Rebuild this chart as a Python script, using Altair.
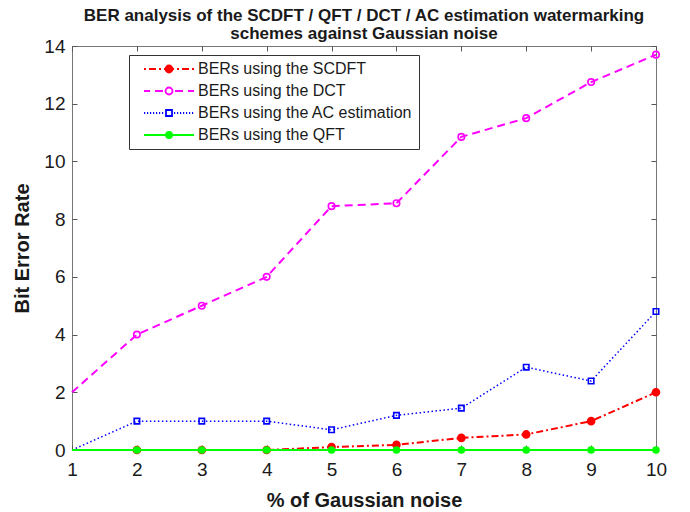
import altair as alt
import pandas as pd

# ---------------- data ----------------
noise = [1, 2, 3, 4, 5, 6, 7, 8, 9, 10]
ber_scdft = [0, 0, 0, 0, 0.1, 0.18, 0.42, 0.54, 1.0, 2.0]
ber_dct = [2, 4, 5, 6, 8.45, 8.55, 10.85, 11.5, 12.75, 13.7]
ber_ac = [0, 1, 1, 1, 0.7, 1.2, 1.45, 2.87, 2.39, 4.8]
ber_qft = [0, 0, 0, 0, 0, 0, 0, 0, 0, 0]
series_names = [
    "BERs using the SCDFT",
    "BERs using the DCT",
    "BERs using the AC estimation",
    "BERs using the QFT",
]
x_ticks = [1, 2, 3, 4, 5, 6, 7, 8, 9, 10]
y_ticks = [0, 2, 4, 6, 8, 10, 12, 14]
title_lines = [
    "BER analysis of the SCDFT / QFT / DCT / AC estimation watermarking",
    "schemes against Gaussian noise",
]
x_title = "% of Gaussian noise"
y_title = "Bit Error Rate"

values = [ber_scdft, ber_dct, ber_ac, ber_qft]
rows = []
for name, vals in zip(series_names, values):
    for xv, yv in zip(noise, vals):
        rows.append({"series": name, "x": xv, "y": yv})
df = pd.DataFrame(rows)

# ---------------- styles ----------------
FONT = "Liberation Sans"
colors = ["#ff0000", "#ff00ff", "#0000ff", "#00ff00"]
dashes = [[7, 3, 2, 3], [8, 5], [1.5, 2.5], [1, 0]]
line_widths = [2, 2, 1.5, 2]
marker_shapes = ["circle", "circle", "square", "circle"]
marker_filled = [True, False, False, True]
marker_sizes = [49, 42, 30, 36]

circ = "M{r},0A{r},{r},0,1,1,-{r},0A{r},{r},0,1,1,{r},0Z"
dots = "".join(f"M{a},0H{a+1.2}" for a in range(-25, -4, 3)) + "".join(
    f"M{a},0H{a+1.2}" for a in range(5, 25, 3)
)
legend_paths = [
    "M-25,0H-23M-20,0H-13M-10,0H-8M-5,0H5M8,0H10M13,0H20M23,0H25" + circ.format(r=3.5),
    "M-25,0H-19M-14,0H-6M6,0H14M19,0H25" + circ.format(r=3.5),
    dots + "M-3,-3H3V3H-3Z",
    "M-25,0H25" + circ.format(r=3),
]
legend_fills = ["#ff0000", "#ffffff", "#ffffff", "#00ff00"]

AX = "#555555"
TXT = "#1a1a1a"

xscale = alt.Scale(domain=[1, 10], nice=False, zero=False)
yscale = alt.Scale(domain=[0, 14], nice=False, zero=False)

x_bottom = alt.X(
    "x:Q", scale=xscale,
    axis=alt.Axis(
        orient="bottom", values=x_ticks, format="d", offset=-5, domain=False,
        tickSize=5, tickColor=AX, tickWidth=1, grid=False,
        labelFont=FONT, labelFontSize=19, labelColor=TXT, labelPadding=10,
        labelFlush=False, labelOverlap=False,
        title=x_title, titleFont=FONT, titleFontSize=20, titleFontWeight="bold",
        titleColor=TXT, titleY=61, titleBaseline="alphabetic",
    ),
)
y_left = alt.Y(
    "y:Q", scale=yscale,
    axis=alt.Axis(
        orient="left", values=y_ticks, format="d", offset=-5, domain=False,
        tickSize=5, tickColor=AX, tickWidth=1, grid=False,
        labelFont=FONT, labelFontSize=19, labelColor=TXT, labelPadding=7,
        labelFlush=False, labelOverlap=False,
        title=y_title, titleFont=FONT, titleFontSize=20, titleFontWeight="bold",
        titleColor=TXT, titleX=-49, titleY=202, titleAngle=270,
        titleAlign="center", titleBaseline="alphabetic",
    ),
)
x_top = alt.X(
    "x:Q", scale=xscale,
    axis=alt.Axis(orient="top", values=x_ticks, offset=-5, domain=False,
                  tickSize=5, tickColor=AX, labels=False, title=None, grid=False),
)
y_right = alt.Y(
    "y:Q", scale=yscale,
    axis=alt.Axis(orient="right", values=y_ticks, offset=-5, domain=False,
                  tickSize=5, tickColor=AX, labels=False, title=None, grid=False),
)
x_plain = alt.X("x:Q", scale=xscale, axis=None)
y_plain = alt.Y("y:Q", scale=yscale, axis=None)

base = alt.Chart(df)
layers = []
for i, name in enumerate(series_names):
    xe = x_bottom if i == 0 else x_plain
    ye = y_left if i == 0 else y_plain
    line = base.transform_filter(alt.datum.series == name).mark_line(
        color=colors[i], strokeDash=dashes[i], strokeWidth=line_widths[i]
    ).encode(x=xe, y=ye)
    pts = base.transform_filter(alt.datum.series == name).transform_filter(
        alt.datum.x > 1
    ).mark_point(
        shape=marker_shapes[i], filled=marker_filled[i],
        fill=colors[i] if marker_filled[i] else "transparent",
        stroke=colors[i], size=marker_sizes[i], strokeWidth=1.6, opacity=1,
    ).encode(x=x_plain, y=y_plain)
    layers += [line, pts]

leg = alt.Legend(
    title=None, orient="none", legendX=57, legendY=9, padding=6,
    fillColor="white", strokeColor="#333333", cornerRadius=0,
    symbolSize=4, symbolStrokeWidth=1.8, symbolOffset=26, labelOffset=21,
    labelFont=FONT, labelFontSize=16, labelColor=TXT, labelLimit=400,
    rowPadding=6,
)
legend_layer = base.transform_filter("datum.x < 0").mark_point(
    filled=True, size=4, opacity=1, strokeWidth=1.8
).encode(
    x=x_top, y=y_right,
    shape=alt.Shape("series:N", scale=alt.Scale(domain=series_names, range=legend_paths), legend=leg),
    fill=alt.Fill("series:N", scale=alt.Scale(domain=series_names, range=legend_fills), legend=leg),
    stroke=alt.Stroke("series:N", scale=alt.Scale(domain=series_names, range=colors), legend=leg),
)
layers.append(legend_layer)

chart = alt.layer(*layers).properties(
    width=584, height=404,
    autosize=alt.AutoSizeParams(type="none"),
    padding={"left": 64, "top": 38, "right": 26, "bottom": 60},
    title=alt.Title(
        text=title_lines, font=FONT, fontSize=17, fontWeight="bold",
        color=TXT, offset=7, dy=13, lineHeight=18, anchor="middle",
    ),
).configure_view(stroke="#777777", strokeWidth=1).configure_legend(strokeWidth=1)

chart.save("out.html", embed_options={"renderer": "svg", "actions": False})
